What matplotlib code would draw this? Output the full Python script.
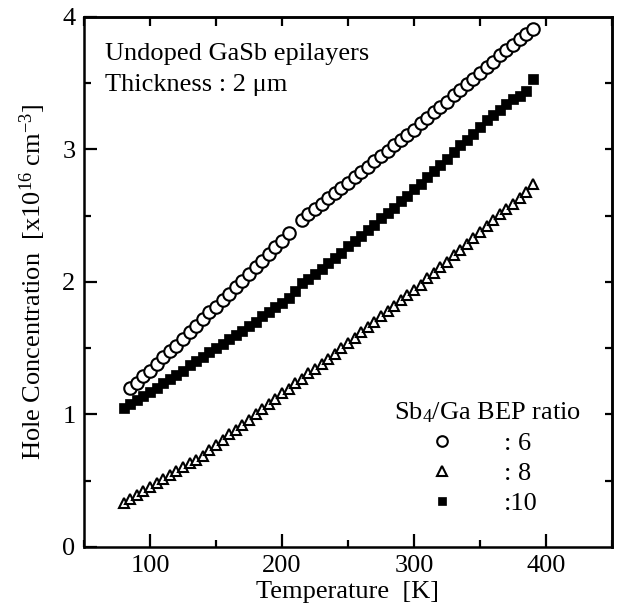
import matplotlib
matplotlib.use("Agg")
import matplotlib.pyplot as plt
import numpy as np

plt.rcParams['font.family'] = ['Liberation Serif', 'DejaVu Serif']
plt.rcParams['mathtext.fontset'] = 'custom'
plt.rcParams['mathtext.rm'] = 'Liberation Serif'
plt.rcParams['mathtext.it'] = 'Liberation Serif:italic'
plt.rcParams['mathtext.bf'] = 'Liberation Serif:bold'

# ratio 6 (open circles)
t6 = [85, 90, 95, 100, 105, 110, 115, 120, 125, 130, 135, 140, 145, 150, 155, 160,
      165, 170, 175, 180, 185, 190, 195, 200, 205,
      215, 220, 225, 230, 235, 240, 245, 250, 255, 260, 265, 270, 275, 280, 285,
      290, 295, 300, 305, 310, 315, 320, 325, 330, 335, 340, 345, 350, 355, 360,
      365, 370, 375, 380, 385, 390]
c6 = [1.20, 1.24, 1.29, 1.33, 1.38, 1.43, 1.48, 1.52, 1.57, 1.62, 1.67, 1.72, 1.77, 1.81, 1.86, 1.91,
      1.96, 2.01, 2.06, 2.11, 2.16, 2.21, 2.26, 2.31, 2.37,
      2.47, 2.51, 2.55, 2.59, 2.63, 2.67, 2.71, 2.75, 2.79, 2.83, 2.87, 2.91, 2.95, 2.99, 3.03,
      3.07, 3.11, 3.15, 3.20, 3.24, 3.28, 3.32, 3.36, 3.41, 3.45, 3.49, 3.53, 3.58, 3.62, 3.66,
      3.71, 3.75, 3.79, 3.83, 3.87, 3.91]

# ratio 8 (open triangles)
t8 = [80, 85, 90, 95, 100, 105, 110, 115, 120, 125, 130, 135, 140, 145, 150, 155,
      160, 165, 170, 175, 180, 185, 190, 195, 200, 205, 210, 215, 220, 225, 230, 235,
      240, 245, 250, 255, 260, 265, 270, 275, 280, 285, 290, 295, 300, 305, 310, 315,
      320, 325, 330, 335, 340, 345, 350, 355, 360, 365, 370, 375, 380, 385, 390]
c8 = [0.33, 0.36, 0.39, 0.42, 0.45, 0.48, 0.51, 0.54, 0.57, 0.60, 0.63, 0.66, 0.69, 0.73, 0.77, 0.81,
      0.85, 0.88, 0.92, 0.96, 1.00, 1.04, 1.08, 1.12, 1.16, 1.19, 1.24, 1.27, 1.31, 1.34, 1.38, 1.42,
      1.46, 1.50, 1.54, 1.58, 1.62, 1.66, 1.70, 1.74, 1.78, 1.82, 1.86, 1.90, 1.94, 1.98, 2.03, 2.07,
      2.11, 2.15, 2.20, 2.24, 2.29, 2.33, 2.38, 2.42, 2.47, 2.51, 2.55, 2.59, 2.63, 2.68, 2.74]

# ratio 10 (filled squares)
t10 = [80, 85, 90, 95, 100, 105, 110, 115, 120, 125, 130, 135, 140, 145, 150, 155,
       160, 165, 170, 175, 180, 185, 190, 195, 200, 205, 210, 215, 220, 225, 230, 235,
       240, 245, 250, 255, 260, 265, 270, 275, 280, 285, 290, 295, 300, 305, 310, 315,
       320, 325, 330, 335, 340, 345, 350, 355, 360, 365, 370, 375, 380, 385, 390]
c10 = [1.05, 1.08, 1.11, 1.14, 1.17, 1.20, 1.24, 1.27, 1.30, 1.33, 1.37, 1.40, 1.43, 1.47, 1.50, 1.53,
       1.57, 1.60, 1.63, 1.67, 1.70, 1.74, 1.77, 1.81, 1.84, 1.88, 1.93, 1.99, 2.02, 2.06, 2.10, 2.14,
       2.18, 2.22, 2.27, 2.31, 2.35, 2.39, 2.43, 2.48, 2.52, 2.56, 2.61, 2.65, 2.70, 2.74, 2.79, 2.84,
       2.88, 2.93, 2.98, 3.03, 3.07, 3.12, 3.17, 3.22, 3.26, 3.30, 3.34, 3.38, 3.40, 3.44, 3.53]

labels = [': 6', ': 8', ':10']
legend_title = 'Sb$_4$/Ga BEP ratio'
xticks = [100, 200, 300, 400]
yticks = [0, 1, 2, 3, 4]

FS = 19
fig = plt.figure(figsize=(6.17, 6.10), dpi=100)
ax = fig.add_axes([0.136, 0.1033, 0.856, 0.869])

h6, = ax.plot(t6, c6, linestyle='none', marker='o', markersize=9, markerfacecolor='white',
              markeredgecolor='black', markeredgewidth=1.5, label=labels[0])
h8, = ax.plot(t8, c8, linestyle='none', marker='^', markersize=7.8, markerfacecolor='white',
              markeredgecolor='black', markeredgewidth=1.5, label=labels[1])
h10, = ax.plot(t10, c10, linestyle='none', marker='s', markersize=6.8, markerfacecolor='black',
               markeredgecolor='black', markeredgewidth=0.5, label=labels[2])

ax.set_xlim(50, 450)
ax.set_ylim(0, 4)
ax.set_xticks(xticks)
ax.set_xticks([50, 150, 250, 350, 450], minor=True)
ax.set_yticks(yticks)
ax.set_yticks([0.5, 1.5, 2.5, 3.5], minor=True)
ax.tick_params(which='major', direction='in', length=9.5, width=1.6, labelsize=FS, pad=6,
               top=False, right=False)
ax.tick_params(which='minor', direction='in', length=5, width=1.6, top=False, right=False)
for s in ax.spines.values():
    s.set_linewidth(1.8)

sx = ax.secondary_xaxis('top')
sx.set_xticks([50, 100, 150, 200, 250, 300, 350, 400, 450])
sx.tick_params(direction='in', length=6.5, width=1.6, labeltop=False)
sx.spines['top'].set_linewidth(1.8)
sy = ax.secondary_yaxis('right')
sy.set_yticks([0.5, 1, 1.5, 2, 2.5, 3, 3.5])
sy.tick_params(direction='in', length=5, width=1.6, labelright=False)
sy.spines['right'].set_linewidth(1.8)

ax.set_xlabel('Temperature  [K]', fontsize=FS, labelpad=3)
ax.set_ylabel('Hole Concentration  [x10$^{16}$ cm$^{-3}$]', fontsize=FS, labelpad=10)

ax.text(0.04, 0.93, 'Undoped GaSb epilayers', transform=ax.transAxes, fontsize=FS,
        ha='left', va='center')
ax.text(0.04, 0.871, 'Thickness : 2 μm', transform=ax.transAxes, fontsize=FS,
        ha='left', va='center')

leg = ax.legend(handles=[h6, h8, h10], title=legend_title, loc='center',
                bbox_to_anchor=(0.764, 0.168), frameon=False, fontsize=FS,
                title_fontsize=FS, handlelength=0.4, handletextpad=2.15,
                labelspacing=0.25, borderpad=0.2, markerscale=0.85)

fig.savefig('out.png', dpi=100)
